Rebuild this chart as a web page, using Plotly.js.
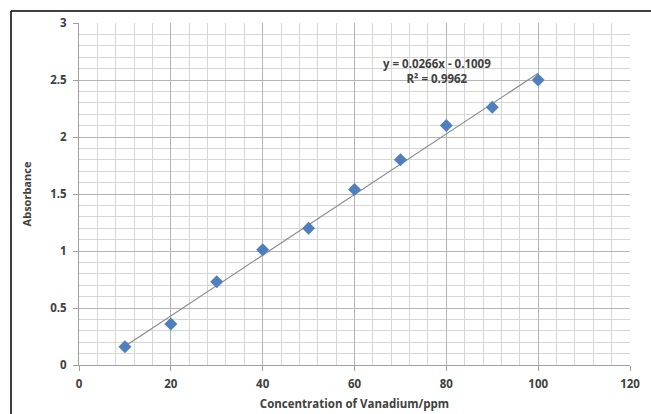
<!DOCTYPE html>
<html>
<head>
<meta charset="utf-8">
<script src="https://cdn.plot.ly/plotly-3.0.1.min.js"></script>
<style>html,body{margin:0;padding:0;background:#fff;}#chart{width:651px;height:414px;}</style>
</head>
<body>
<div id="chart"></div>
<script>
const concentration = [10, 20, 30, 40, 50, 60, 70, 80, 90, 100];
const absorbance = [0.16, 0.36, 0.73, 1.01, 1.20, 1.54, 1.80, 2.10, 2.26, 2.50];
const slope = 0.0266;
const intercept = -0.1009;
const equationText = "y = 0.0266x - 0.1009";
const r2Text = "R² = 0.9962";
const xTitle = "Concentration of Vanadium/ppm";
const yTitle = "Absorbance";

const trendX = [concentration[0], concentration[concentration.length - 1]];
const trendY = trendX.map(x => slope * x + intercept);

const fontFam = "'Open Sans', 'Liberation Sans', sans-serif";

const traces = [
  {
    x: trendX, y: trendY, type: 'scatter', mode: 'lines',
    line: {color: '#8a8a8a', width: 1.2}, hoverinfo: 'skip'
  },
  {
    x: concentration, y: absorbance, type: 'scatter', mode: 'markers',
    marker: {symbol: 'diamond', size: 10, color: '#4f7fbd', line: {width: 0}}
  }
];

const layout = {
  width: 651, height: 414,
  margin: {l: 79, r: 21, t: 23, b: 49},
  paper_bgcolor: '#ffffff', plot_bgcolor: '#ffffff',
  showlegend: false,
  font: {family: fontFam, color: '#404040'},
  xaxis: {
    range: [0, 120], dtick: 20, tick0: 0,
    showgrid: true, gridcolor: '#b4b4b4', gridwidth: 1,
    minor: {dtick: 4, showgrid: true, gridcolor: '#d6d6d6', gridwidth: 1},
    zeroline: false, showline: true, linecolor: '#a0a0a0', linewidth: 1,
    ticks: 'outside', ticklen: 5, tickcolor: '#a0a0a0', ticklabelstandoff: 3,
    tickfont: {size: 11.5, family: fontFam, color: '#404040', weight: 'bold'},
    title: {text: xTitle, standoff: 10, font: {size: 11.5, family: fontFam, color: '#404040', weight: 'bold'}},
    fixedrange: true
  },
  yaxis: {
    range: [0, 3], dtick: 0.5, tick0: 0,
    showgrid: true, gridcolor: '#b4b4b4', gridwidth: 1,
    minor: {dtick: 0.1, showgrid: true, gridcolor: '#d6d6d6', gridwidth: 1},
    zeroline: false, showline: true, linecolor: '#a0a0a0', linewidth: 1,
    ticks: 'outside', ticklen: 5, tickcolor: '#a0a0a0', ticklabelstandoff: 4,
    tickfont: {size: 11.5, family: fontFam, color: '#404040', weight: 'bold'},
    title: {text: yTitle, standoff: 16, font: {size: 11, family: fontFam, color: '#404040', weight: 'bold'}},
    fixedrange: true
  },
  annotations: [
    {
      x: 78, y: 2.58, xref: 'x', yref: 'y',
      text: equationText + '<br>' + r2Text,
      showarrow: false, align: 'center',
      font: {size: 11.5, family: fontFam, color: '#404040', weight: 'bold'},
      bgcolor: 'rgba(255,255,255,0)'
    }
  ],
  shapes: [
    {type: 'line', xref: 'paper', yref: 'paper', x0: -0.1234, x1: 1.05, y0: 1.035, y1: 1.035, line: {color: '#000', width: 1.5}},
    {type: 'line', xref: 'paper', yref: 'paper', x0: -0.1234, x1: -0.1234, y0: 1.035, y1: -0.2, line: {color: '#000', width: 1.5}}
  ]
};

Plotly.newPlot('chart', traces, layout, {displayModeBar: false, staticPlot: true});
</script>
</body>
</html>
